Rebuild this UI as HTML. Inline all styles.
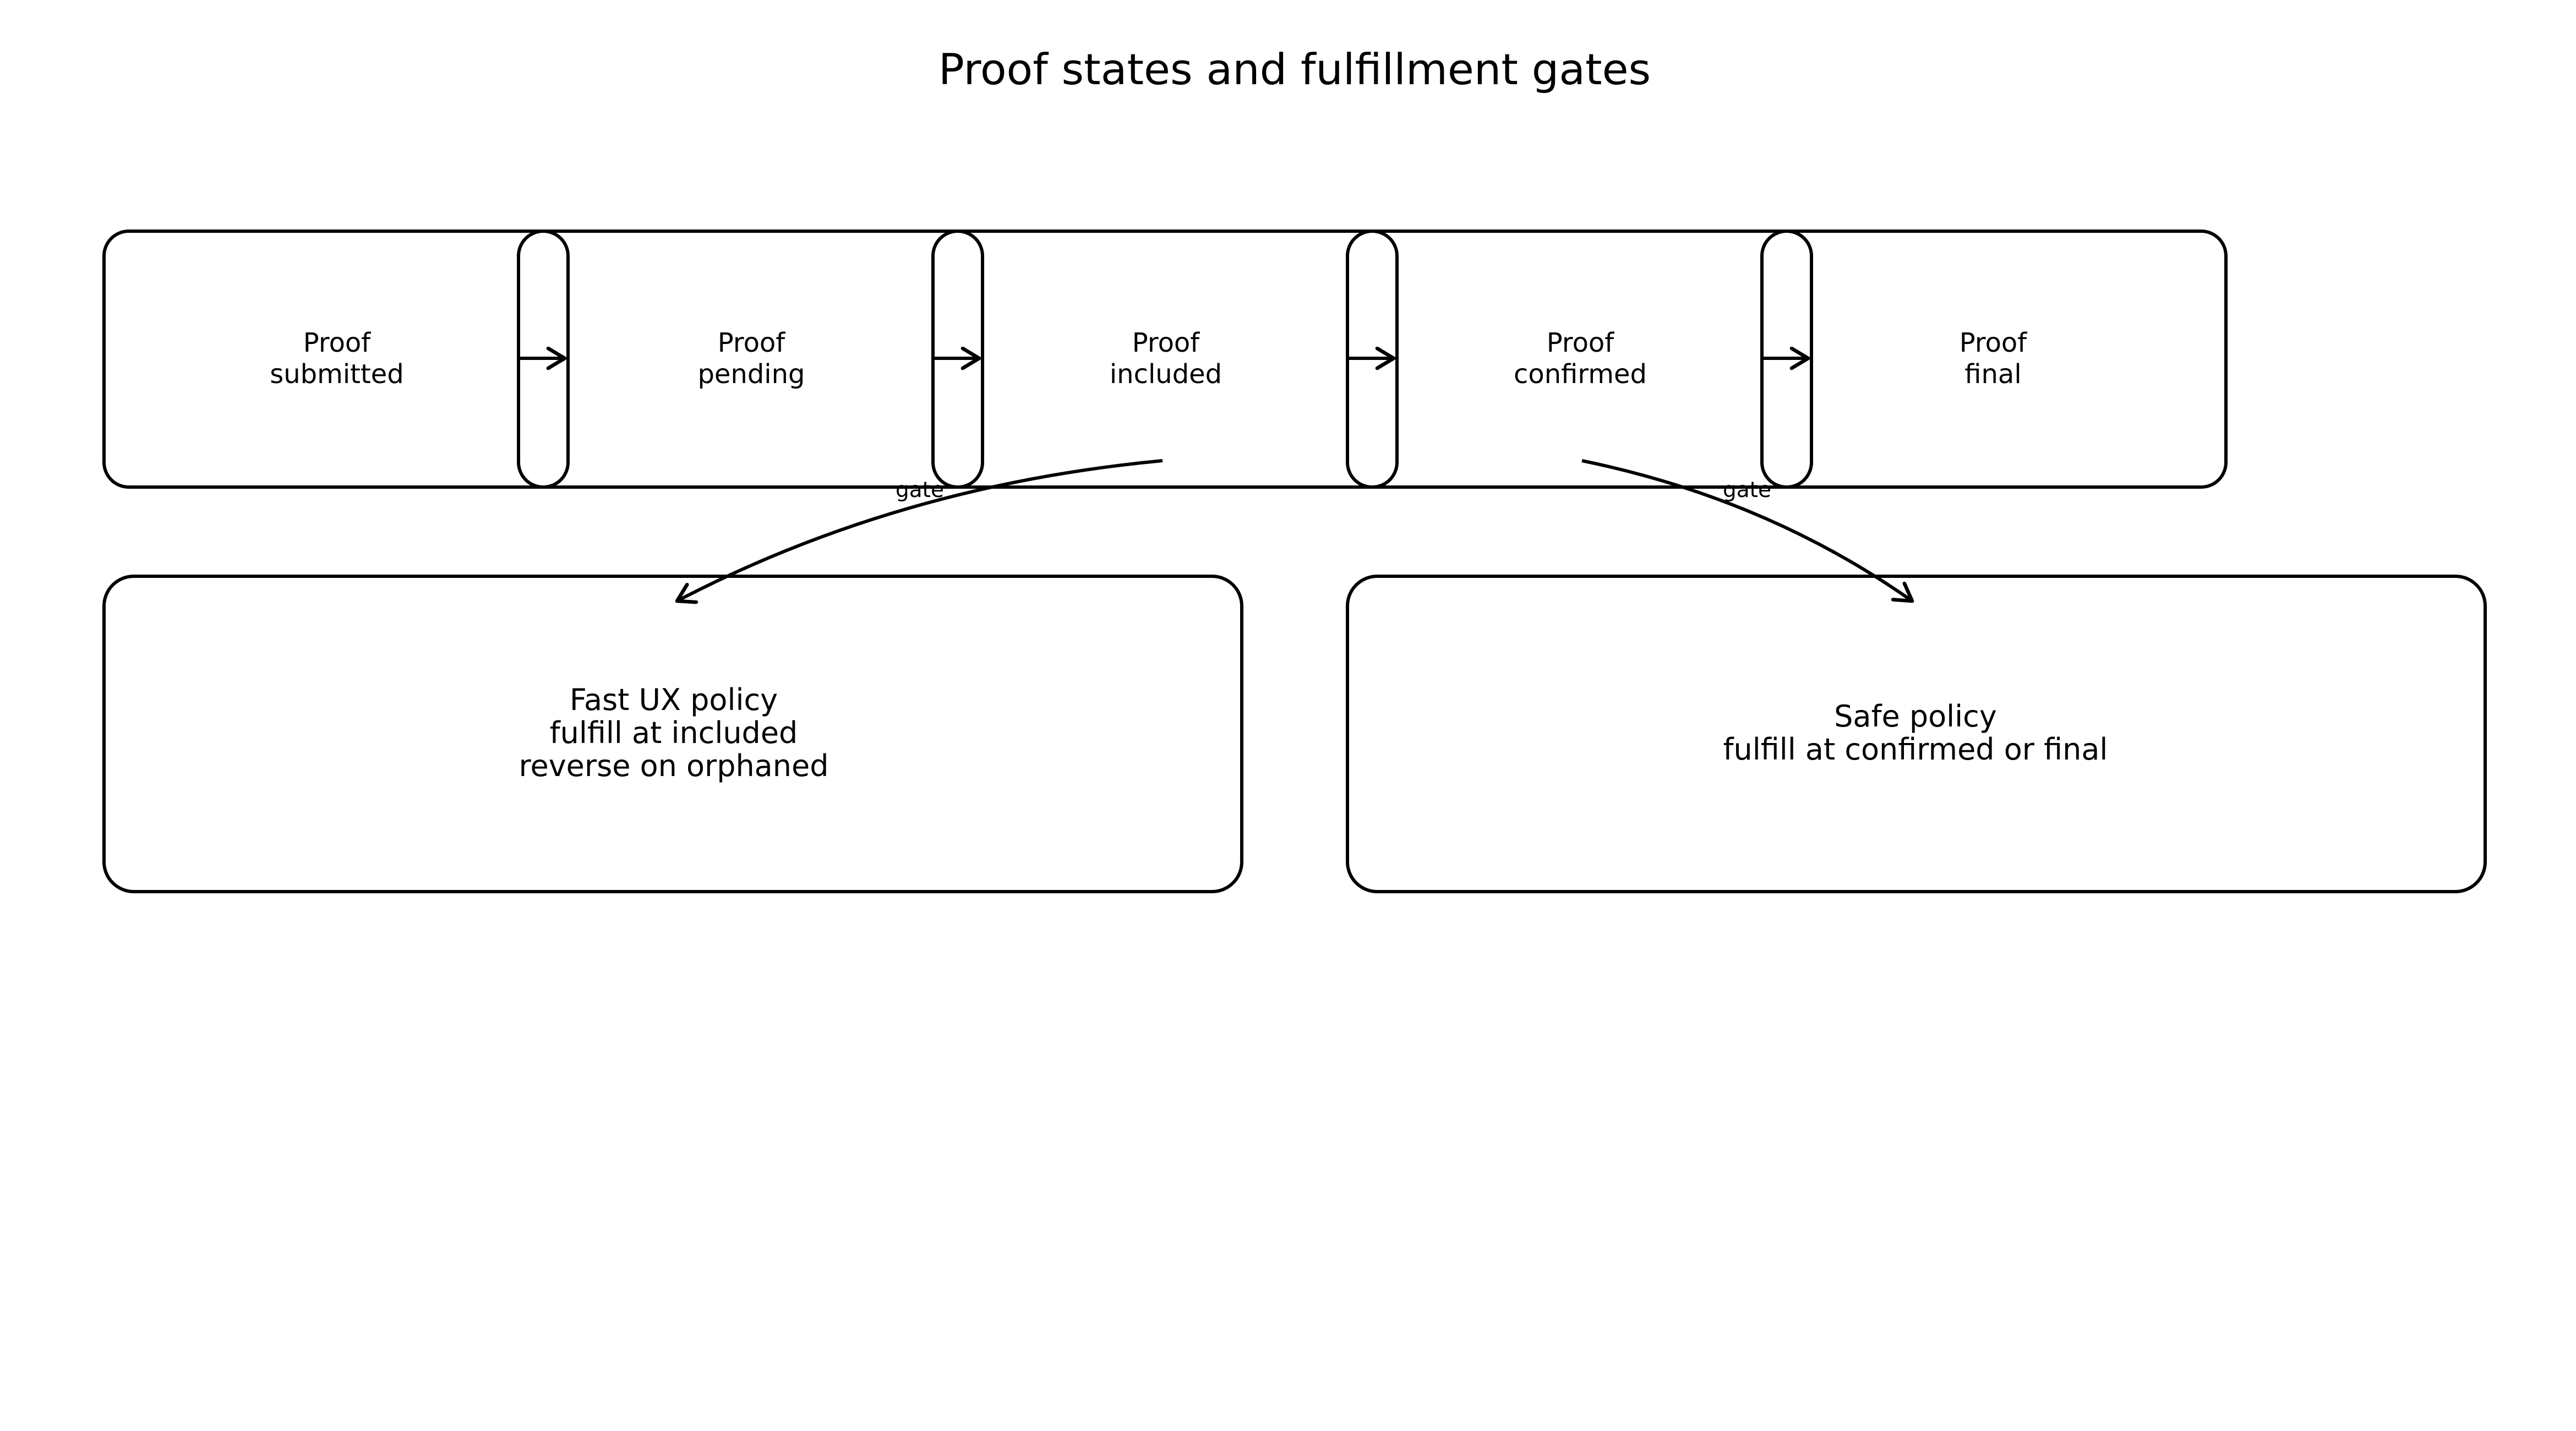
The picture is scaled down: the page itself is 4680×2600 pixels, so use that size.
<!DOCTYPE html>
<html><head><meta charset="utf-8"><style>html,body{margin:0;padding:0;background:#fff}svg{display:block}</style></head>
<body>
<svg width="4680" height="2600" viewBox="0 0 1560 866.667" xmlns="http://www.w3.org/2000/svg" font-family="'DejaVu Sans','Liberation Sans',sans-serif">
<defs>
<marker id="ah" markerUnits="userSpaceOnUse" markerWidth="20" markerHeight="20" refX="12" refY="7" orient="auto">
<path d="M2,1 L12,7 L2,13" fill="none" stroke="#000" stroke-width="2.2" stroke-linecap="round" stroke-linejoin="round"/>
</marker>
</defs>
<rect width="1560" height="866.667" fill="#fff"/>
<text x="784" y="51" font-size="26" text-anchor="middle">Proof states and fulfillment gates</text>
<g fill="none" stroke="#000" stroke-width="2">
<rect x="63" y="140" width="281" height="155" rx="15" ry="15"/>
<rect x="314" y="140" width="281" height="155" rx="15" ry="15"/>
<rect x="565" y="140" width="281" height="155" rx="15" ry="15"/>
<rect x="816" y="140" width="281" height="155" rx="15" ry="15"/>
<rect x="1067" y="140" width="281" height="155" rx="15" ry="15"/>
<rect x="63" y="349" width="689" height="191" rx="18" ry="18"/>
<rect x="816" y="349" width="689" height="191" rx="18" ry="18"/>
<line x1="315" y1="217" x2="342" y2="217" marker-end="url(#ah)"/>
<line x1="566" y1="217" x2="593" y2="217" marker-end="url(#ah)"/>
<line x1="817" y1="217" x2="844" y2="217" marker-end="url(#ah)"/>
<line x1="1068" y1="217" x2="1095" y2="217" marker-end="url(#ah)"/>
<path d="M704,279 Q544,294 410,364" marker-end="url(#ah)"/>
<path d="M958,279 Q1070,302 1158,364" marker-end="url(#ah)"/>
</g>
<g font-size="16" text-anchor="middle" fill="#000">
<text x="204" y="213">Proof</text><text x="204" y="232">submitted</text>
<text x="455" y="213">Proof</text><text x="455" y="232">pending</text>
<text x="706" y="213">Proof</text><text x="706" y="232">included</text>
<text x="957" y="213">Proof</text><text x="957" y="232">confirmed</text>
<text x="1207" y="213">Proof</text><text x="1207" y="232">final</text>
<g font-size="18">
<text x="408" y="430">Fast UX policy</text>
<text x="408" y="450">fulfill at included</text>
<text x="408" y="470">reverse on orphaned</text>
<text x="1160" y="440">Safe policy</text>
<text x="1160" y="460">fulfill at confirmed or final</text>
</g>
<text x="557" y="301" font-size="13">gate</text>
<text x="1058" y="301" font-size="13">gate</text>
</g>
</svg>
</body></html>
